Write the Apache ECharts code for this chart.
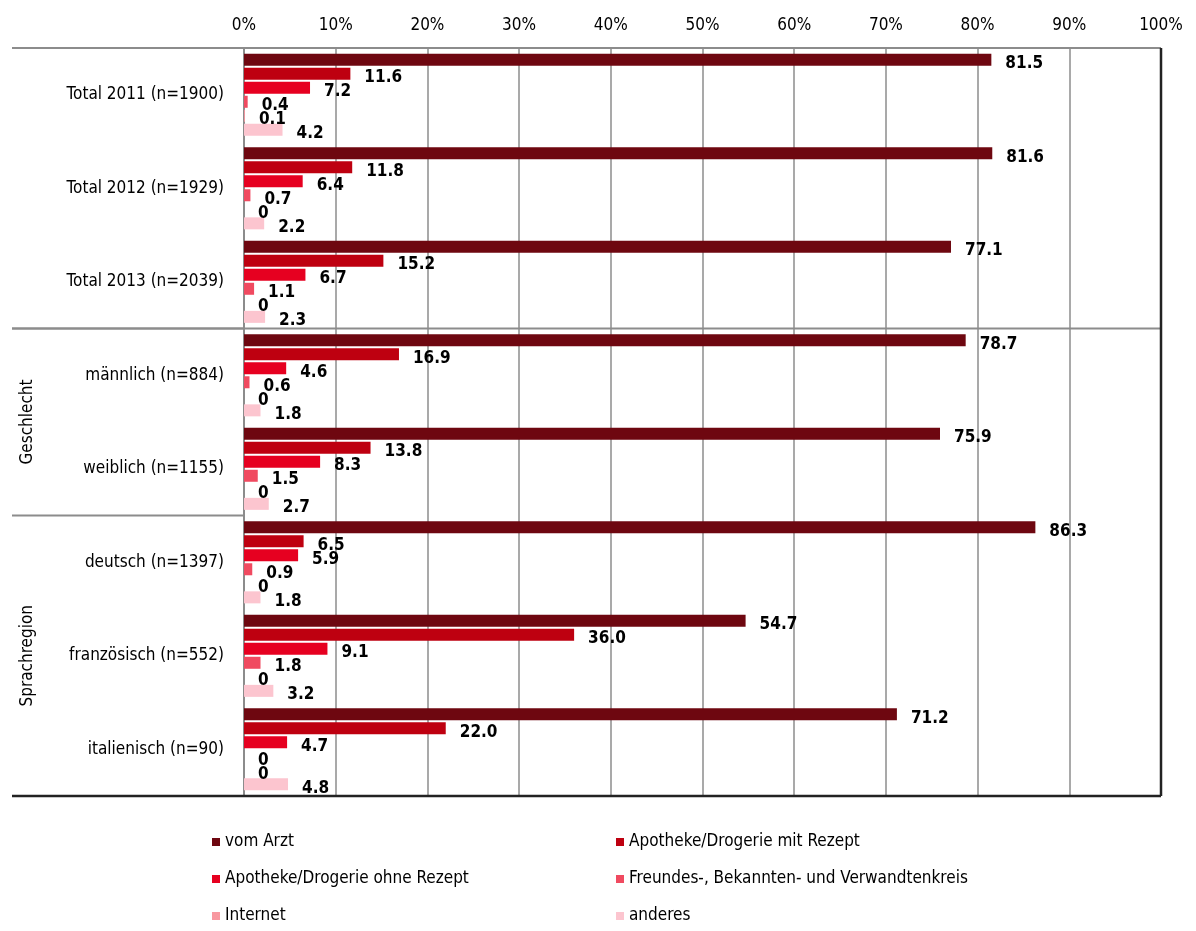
<!DOCTYPE html>
<html><head><meta charset="utf-8">
<script src="https://cdn.jsdelivr.net/npm/echarts@6/dist/echarts.min.js"></script>
<style>html,body{margin:0;padding:0;background:#fff}#c{width:1196px;height:931px}</style>
</head><body><div id="c"></div>
<script>
const categories = ['Total 2011 (n=1900)','Total 2012 (n=1929)','Total 2013 (n=2039)','männlich (n=884)','weiblich (n=1155)','deutsch (n=1397)','französisch (n=552)','italienisch (n=90)'];
const seriesNames = ['vom Arzt','Apotheke/Drogerie mit Rezept','Apotheke/Drogerie ohne Rezept','Freundes-, Bekannten- und Verwandtenkreis','Internet','anderes'];
const vomArzt = [81.5,81.6,77.1,78.7,75.9,86.3,54.7,71.2];
const mitRezept = [11.6,11.8,15.2,16.9,13.8,6.5,36.0,22.0];
const ohneRezept = [7.2,6.4,6.7,4.6,8.3,5.9,9.1,4.7];
const freunde = [0.4,0.7,1.1,0.6,1.5,0.9,1.8,0];
const internet = [0.1,0,0,0,0,0,0,0];
const anderes = [4.2,2.2,2.3,1.8,2.7,1.8,3.2,4.8];
const groupLabels = ['Geschlecht','Sprachregion'];
const xTicks = [0,10,20,30,40,50,60,70,80,90,100];
const colors = ['#6e0710','#be0010','#e60020','#f04a60','#f898a0','#fcc5cf'];
const values = [vomArzt, mitRezept, ohneRezept, freunde, internet, anderes];
const FONT = '"Liberation Sans Narrow","DejaVu Sans Condensed",Arial,sans-serif';

const chart = echarts.init(document.getElementById('c'));
const series = seriesNames.map((n,i)=>({
  name:n, type:'bar', data:values[i], barWidth:12, barGap:'17%',
  itemStyle:{color:colors[i]},
  label:{show:true, position:'right', distance:14, offset:[0,4], color:'#000', fontWeight:'bold', fontSize:17, fontFamily:FONT,
    formatter:p=> p.value===0 ? '0' : p.value.toFixed(1)}
}));
chart.setOption({
  animation:false,
  textStyle:{fontFamily:FONT},
  grid:{left:244, right:35, top:48, bottom:135},
  xAxis:{type:'value', position:'top', min:0, max:100, interval:10,
    axisLabel:{formatter:'{value}%', fontSize:17, color:'#000', margin:14, fontFamily:FONT},
    axisLine:{show:false}, axisTick:{show:false},
    splitLine:{show:true, lineStyle:{color:'#8c8c8c', width:1.5}}},
  yAxis:{type:'category', data:categories, inverse:true,
    axisLabel:{fontSize:17, color:'#000', margin:20, fontFamily:FONT},
    axisLine:{show:true, lineStyle:{color:'#8c8c8c', width:2}}, axisTick:{show:false}},
  legend:{show:false},
  series:series
});

// build legend & decorations from chart coordinates
const g = [];
const yTop = chart.convertToPixel({yAxisIndex:0}, categories[0]);
const band = chart.convertToPixel({yAxisIndex:0}, categories[1]) - yTop;
const topY = yTop - band/2;
const bottomY = topY + band*categories.length;
const x0 = chart.convertToPixel({xAxisIndex:0}, 0);
const x100 = chart.convertToPixel({xAxisIndex:0}, 100);
function hline(y, color, w, x1){ g.push({type:'line', shape:{x1:x1, y1:y, x2:x100, y2:y}, style:{stroke:color, lineWidth:w}, z:10}); }
hline(topY, '#8c8c8c', 2, 12);
hline(topY + band*3, '#8c8c8c', 2, 12); hline(topY+band*3, '#8c8c8c', 0, 12);
g.pop();
hline(topY + band*5, '#8c8c8c', 2, 12); g.pop();
// separators only to the left of plot for inner lines
g.push({type:'line', shape:{x1:12,y1:topY+band*3,x2:x0,y2:topY+band*3}, style:{stroke:'#8c8c8c',lineWidth:2}, z:10});
g.push({type:'line', shape:{x1:12,y1:topY+band*5,x2:x0,y2:topY+band*5}, style:{stroke:'#8c8c8c',lineWidth:2}, z:10});
hline(bottomY, '#222', 2.5, 12);
g.push({type:'line', shape:{x1:x100,y1:topY,x2:x100,y2:bottomY}, style:{stroke:'#222',lineWidth:2.5}, z:10});
// group labels
[[3,5,groupLabels[0]],[5,8,groupLabels[1]]].forEach(([a,b,t])=>{
  g.push({type:'text', x:28, y:topY + band*(a+b)/2, rotation:Math.PI/2,
    style:{text:t, fontSize:17, fontFamily:FONT, fill:'#000', align:'center', verticalAlign:'middle'}, z:10});
});
// legend
const legX = [216, 620], legY = [842, 879, 916];
seriesNames.forEach((n,i)=>{
  const x = legX[i%2], y = legY[Math.floor(i/2)];
  g.push({type:'rect', shape:{x:x-4, y:y-4, width:8, height:8}, style:{fill:colors[i]}});
  g.push({type:'text', x:x+9, y:y, style:{text:n, fontSize:17, fontFamily:FONT, fill:'#000', verticalAlign:'middle'}});
});
chart.setOption({graphic:g});
</script></body></html>
